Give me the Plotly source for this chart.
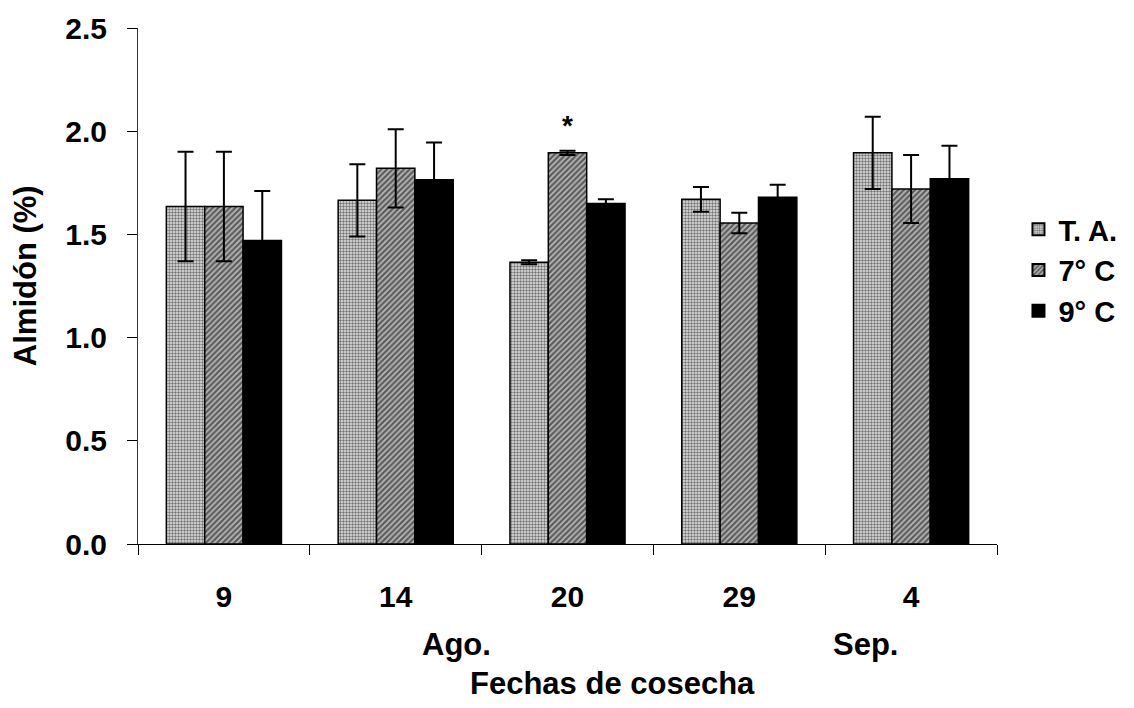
import plotly.graph_objects as go

categories = ["9", "14", "20", "29", "4"]
series_names = ["T. A.", "7° C", "9° C"]
ta_values = [1.635, 1.665, 1.365, 1.67, 1.895]
ta_errors = [0.265, 0.175, 0.01, 0.06, 0.175]
c7_values = [1.635, 1.82, 1.895, 1.555, 1.72]
c7_errors = [0.265, 0.19, 0.01, 0.05, 0.165]
c9_values = [1.47, 1.765, 1.65, 1.68, 1.77]
c9_errors = [0.24, 0.18, 0.02, 0.06, 0.16]
y_ticks = [0.0, 0.5, 1.0, 1.5, 2.0, 2.5]
y_ticklabels = ["0.0", "0.5", "1.0", "1.5", "2.0", "2.5"]
star_category_index = 2
star_value = 2.03

FONT = "Liberation Sans, Arial, sans-serif"

def err(arr):
    return dict(type="data", array=arr, visible=True, color="black",
                thickness=2, width=8)

fig = go.Figure()
fig.add_trace(go.Bar(
    name=series_names[0], x=categories, y=ta_values, error_y=err(ta_errors),
    marker=dict(color="#e8e8e8", line=dict(color="black", width=1.5),
                pattern=dict(shape=".", bgcolor="#e6e6e6", fgcolor="#000000",
                             size=3, solidity=0.5)),
))
fig.add_trace(go.Bar(
    name=series_names[1], x=categories, y=c7_values, error_y=err(c7_errors),
    marker=dict(color="#aaaaaa", line=dict(color="black", width=1.5),
                pattern=dict(shape="/", bgcolor="#b8b8b8", fgcolor="#000000",
                             size=4, solidity=0.55)),
))
fig.add_trace(go.Bar(
    name=series_names[2], x=categories, y=c9_values, error_y=err(c9_errors),
    marker=dict(color="black", line=dict(color="black", width=1.5)),
))

tick_font = dict(family=FONT, size=30, color="black", weight="bold")
title_font = dict(family=FONT, size=31, color="black", weight="bold")

fig.update_layout(
    width=1134, height=708,
    margin=dict(l=138, r=132, t=28, b=164),
    paper_bgcolor="white", plot_bgcolor="white",
    barmode="group", bargap=0.33, bargroupgap=0,
    showlegend=True,
    legend=dict(x=1.025, y=0.53, xanchor="left", yanchor="middle",
                font=dict(family=FONT, size=29, color="black", weight="bold"),
                itemsizing="constant", tracegroupgap=6, itemwidth=30,
                bgcolor="rgba(0,0,0,0)"),
    xaxis=dict(type="category", range=[-0.5, 4.5], tickson="boundaries",
               ticks="outside", ticklen=10, tickcolor="black", showline=True,
               linecolor="black", linewidth=1, tickfont=tick_font,
               ticklabelstandoff=26, showgrid=False, zeroline=False),
    yaxis=dict(range=[0, 2.5], tickvals=y_ticks, ticktext=y_ticklabels,
               ticks="outside", ticklen=10, tickcolor="black", showline=True,
               linecolor="#333333", linewidth=1, tickfont=tick_font,
               ticklabelstandoff=14, showgrid=False, zeroline=False),
    annotations=[
        dict(text="Almidón (%)", xref="paper", yref="paper", x=-0.131, y=0.52,
             textangle=-90, showarrow=False, xanchor="center", yanchor="middle",
             font=title_font),
        dict(text="Fechas de cosecha", xref="paper", yref="paper", x=0.552, y=-0.27,
             showarrow=False, xanchor="center", yanchor="middle",
             font=title_font),
        dict(text="Ago.", xref="paper", yref="paper", x=(458 - 138) / 864, y=-0.195,
             showarrow=False, xanchor="center", yanchor="middle",
             font=title_font),
        dict(text="Sep.", xref="paper", yref="paper", x=(870 - 138) / 864, y=-0.195,
             showarrow=False, xanchor="center", yanchor="middle",
             font=title_font),
        dict(text="*", xref="x", yref="y", x=star_category_index, y=star_value,
             showarrow=False, xanchor="center", yanchor="middle",
             font=dict(family=FONT, size=28, color="black", weight="bold")),
    ],
)

fig.write_html("out.html")
